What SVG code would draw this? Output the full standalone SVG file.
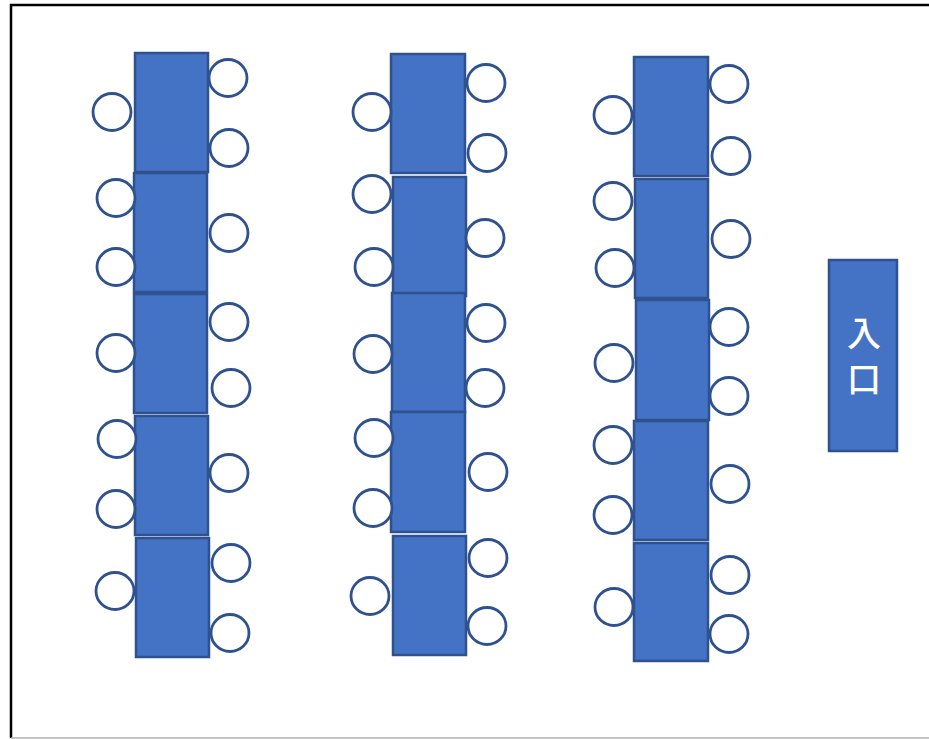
<svg xmlns="http://www.w3.org/2000/svg" width="929" height="739" viewBox="0 0 929 739">
<style>
.t{fill:#4472C4;stroke:#2F528F;stroke-width:2.5}
.c{fill:#FFFFFF;stroke:#2F528F;stroke-width:2.8}
.lbl{fill:#FFFFFF;font-family:"Noto Sans CJK JP","Noto Sans CJK SC",sans-serif;font-size:34px;font-weight:500;text-anchor:middle}
</style>
<rect width="929" height="739" fill="#FFFFFF"/>
<path d="M11,738 V5 H929" fill="none" stroke="#000000" stroke-width="2.5"/>
<line x1="11" y1="738" x2="929" y2="738" stroke="#B0B0B0" stroke-width="1.5"/>
<g id="col1">
<rect class="t" x="135" y="53" width="73" height="119"/>
<rect class="t" x="134" y="173" width="73" height="119"/>
<rect class="t" x="134" y="294" width="73" height="119"/>
<rect class="t" x="135" y="416" width="73" height="119"/>
<rect class="t" x="136" y="538" width="73" height="119"/>
<ellipse class="c" cx="112" cy="112" rx="19" ry="18.5"/>
<ellipse class="c" cx="116" cy="198" rx="19" ry="18.5"/>
<ellipse class="c" cx="116" cy="267" rx="19" ry="18.5"/>
<ellipse class="c" cx="116" cy="353" rx="19" ry="18.5"/>
<ellipse class="c" cx="117" cy="439" rx="19" ry="18.5"/>
<ellipse class="c" cx="116" cy="509" rx="19" ry="18.5"/>
<ellipse class="c" cx="115" cy="591" rx="19" ry="18.5"/>
<ellipse class="c" cx="228" cy="78" rx="19" ry="18.5"/>
<ellipse class="c" cx="229" cy="148" rx="19" ry="18.5"/>
<ellipse class="c" cx="229" cy="233" rx="19" ry="18.5"/>
<ellipse class="c" cx="229" cy="322" rx="19" ry="18.5"/>
<ellipse class="c" cx="231" cy="388" rx="19" ry="18.5"/>
<ellipse class="c" cx="229" cy="473" rx="19" ry="18.5"/>
<ellipse class="c" cx="231" cy="563" rx="19" ry="18.5"/>
<ellipse class="c" cx="230" cy="633" rx="19" ry="18.5"/>
</g>
<g id="col2">
<rect class="t" x="391" y="54" width="74" height="119"/>
<rect class="t" x="393" y="177" width="73" height="119"/>
<rect class="t" x="392" y="293" width="73" height="119"/>
<rect class="t" x="391" y="412" width="74" height="120"/>
<rect class="t" x="393" y="536" width="73" height="119"/>
<ellipse class="c" cx="372" cy="112" rx="19" ry="18.5"/>
<ellipse class="c" cx="372" cy="194" rx="19" ry="18.5"/>
<ellipse class="c" cx="374" cy="267" rx="19" ry="18.5"/>
<ellipse class="c" cx="373" cy="354" rx="19" ry="18.5"/>
<ellipse class="c" cx="374" cy="438" rx="19" ry="18.5"/>
<ellipse class="c" cx="373" cy="508" rx="19" ry="18.5"/>
<ellipse class="c" cx="370" cy="596" rx="19" ry="18.5"/>
<ellipse class="c" cx="486" cy="83" rx="19" ry="18.5"/>
<ellipse class="c" cx="487" cy="153" rx="19" ry="18.5"/>
<ellipse class="c" cx="485" cy="238" rx="19" ry="18.5"/>
<ellipse class="c" cx="486" cy="323" rx="19" ry="18.5"/>
<ellipse class="c" cx="485" cy="388" rx="19" ry="18.5"/>
<ellipse class="c" cx="488" cy="472" rx="19" ry="18.5"/>
<ellipse class="c" cx="488" cy="558" rx="19" ry="18.5"/>
<ellipse class="c" cx="487" cy="626" rx="19" ry="18.5"/>
</g>
<g id="col3">
<rect class="t" x="634" y="57" width="74" height="119"/>
<rect class="t" x="635" y="179" width="73" height="119"/>
<rect class="t" x="636" y="300" width="73" height="120"/>
<rect class="t" x="634" y="421" width="74" height="119"/>
<rect class="t" x="634" y="543" width="74" height="118"/>
<ellipse class="c" cx="613" cy="115" rx="19" ry="18.5"/>
<ellipse class="c" cx="613" cy="201" rx="19" ry="18.5"/>
<ellipse class="c" cx="615" cy="268" rx="19" ry="18.5"/>
<ellipse class="c" cx="614" cy="363" rx="19" ry="18.5"/>
<ellipse class="c" cx="613" cy="445" rx="19" ry="18.5"/>
<ellipse class="c" cx="613" cy="515" rx="19" ry="18.5"/>
<ellipse class="c" cx="614" cy="607" rx="19" ry="18.5"/>
<ellipse class="c" cx="729" cy="84" rx="19" ry="18.5"/>
<ellipse class="c" cx="731" cy="156" rx="19" ry="18.5"/>
<ellipse class="c" cx="731" cy="239" rx="19" ry="18.5"/>
<ellipse class="c" cx="729" cy="327" rx="19" ry="18.5"/>
<ellipse class="c" cx="729" cy="396" rx="19" ry="18.5"/>
<ellipse class="c" cx="730" cy="484" rx="19" ry="18.5"/>
<ellipse class="c" cx="730" cy="575" rx="19" ry="18.5"/>
<ellipse class="c" cx="729" cy="634" rx="19" ry="18.5"/>
</g>
<g id="entrance">
<rect class="t" x="829" y="260" width="68" height="191"/>
<text class="lbl" x="864" y="346">入</text>
<text class="lbl" x="864" y="392">口</text>
</g>
</svg>
